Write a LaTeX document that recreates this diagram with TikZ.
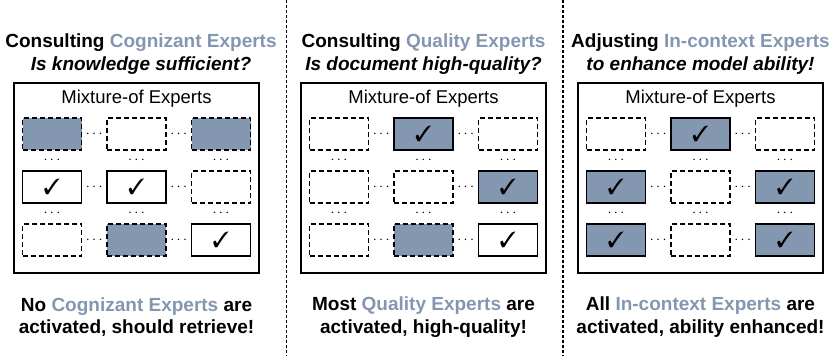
\documentclass[tikz,border=0pt]{standalone}
\usepackage{pifont}
\usepackage{fontspec}
\setmainfont{Liberation Sans}
\usetikzlibrary{positioning}
\definecolor{expblue}{HTML}{8497B0}
\newcommand{\okmark}{\ding{51}}

\begin{document}
\begin{tikzpicture}[
    x=1pt, y=-1pt,
    font=\fontsize{18.5}{22}\selectfont,
    heading/.style={align=center, font=\fontsize{19}{22.5}\selectfont\bfseries},
    moebox/.style={rectangle, draw, line width=1.4pt, minimum width=245pt,
                   minimum height=190pt, inner sep=0pt},
    idle/.style={rectangle, draw, dash pattern=on 5pt off 3pt, line width=1.5pt,
                 minimum width=59pt, minimum height=32pt, inner sep=0pt,
                 font=\fontsize{22}{22}\selectfont},
    idleon/.style={idle, fill=expblue},
    picked/.style={idle, solid, fill=white},
    pickedon/.style={picked, fill=expblue},
    dots/.style={font=\fontsize{14}{14}\selectfont, inner sep=0pt},
    sep/.style={dash pattern=on 3pt off 2pt, line width=1.2pt}
  ]

  \useasboundingbox (0,0) rectangle (830,356);

  % Panel 1: cognizant experts
  \node[heading] (title1) at (141,54) {Consulting \textcolor{expblue}{Cognizant Experts}\\
                                        \itshape Is knowledge sufficient?};
  \node[moebox]  (box1)   at (136.5,178) {};
  \node          (moe1)   at (136.5,99)  {Mixture-of Experts};

  \node[idleon]   (cog11) at (52,134)    {};
  \node[idle]     (cog12) at (136.5,134) {};
  \node[idleon]   (cog13) at (221,134)   {};
  \node[picked]   (cog21) at (52,187)    {\okmark};
  \node[picked]   (cog22) at (136.5,187) {\okmark};
  \node[idle]     (cog23) at (221,187)   {};
  \node[idle]     (cog31) at (52,240)    {};
  \node[idleon]   (cog32) at (136.5,240) {};
  \node[picked]   (cog33) at (221,240)   {\okmark};

  \node[heading] (note1) at (136.5,317) {No \textcolor{expblue}{Cognizant Experts} are\\
                                         activated, should retrieve!};

  % Panel 2: quality experts
  \node[heading] (title2) at (423.5,54) {Consulting \textcolor{expblue}{Quality Experts}\\
                                          \itshape Is document high-quality?};
  \node[moebox]  (box2)   at (423.5,178) {};
  \node          (moe2)   at (423.5,99)  {Mixture-of Experts};

  \node[idle]     (qua11) at (339,134)   {};
  \node[pickedon] (qua12) at (423.5,134) {\okmark};
  \node[idle]     (qua13) at (508,134)   {};
  \node[idle]     (qua21) at (339,187)   {};
  \node[idle]     (qua22) at (423.5,187) {};
  \node[pickedon] (qua23) at (508,187)   {\okmark};
  \node[idle]     (qua31) at (339,240)   {};
  \node[idleon]   (qua32) at (423.5,240) {};
  \node[picked]   (qua33) at (508,240)   {\okmark};

  \node[heading] (note2) at (423.5,317) {Most \textcolor{expblue}{Quality Experts} are\\
                                         activated, high-quality!};

  % Panel 3: in-context experts
  \node[heading] (title3) at (700.5,54) {Adjusting \textcolor{expblue}{In-context Experts}\\
                                          \itshape to enhance model ability!};
  \node[moebox]  (box3)   at (700.5,178) {};
  \node          (moe3)   at (700.5,99)  {Mixture-of Experts};

  \node[idle]     (ctx11) at (616,134)   {};
  \node[pickedon] (ctx12) at (700.5,134) {\okmark};
  \node[idle]     (ctx13) at (785,134)   {};
  \node[pickedon] (ctx21) at (616,187)   {\okmark};
  \node[idle]     (ctx22) at (700.5,187) {};
  \node[pickedon] (ctx23) at (785,187)   {\okmark};
  \node[pickedon] (ctx31) at (616,240)   {\okmark};
  \node[idle]     (ctx32) at (700.5,240) {};
  \node[pickedon] (ctx33) at (785,240)   {\okmark};

  \node[heading] (note3) at (700.5,317) {All \textcolor{expblue}{In-context Experts} are\\
                                         activated, ability enhanced!};

  % Dots between the experts
  \foreach \cx in {136.5,423.5,700.5} {
    \foreach \ry in {134,187,240}
      \foreach \dx in {-42.25,42.25}
        \node[dots] at (\cx+\dx,\ry) {$\cdots$};
    \foreach \ry in {160.5,213.5}
      \foreach \dx in {-84.5,0,84.5}
        \node[dots] at (\cx+\dx,\ry) {$\cdots$};
  }

  % Separators
  \coordinate (sepAtop) at (286.5,0);
  \coordinate (sepAbot) at (286.5,356);
  \coordinate (sepBtop) at (563,0);
  \coordinate (sepBbot) at (563,356);
  \draw[sep] (sepAtop) -- (sepAbot);
  \draw[sep] (sepBtop) -- (sepBbot);

  \end{tikzpicture}
\end{document}
